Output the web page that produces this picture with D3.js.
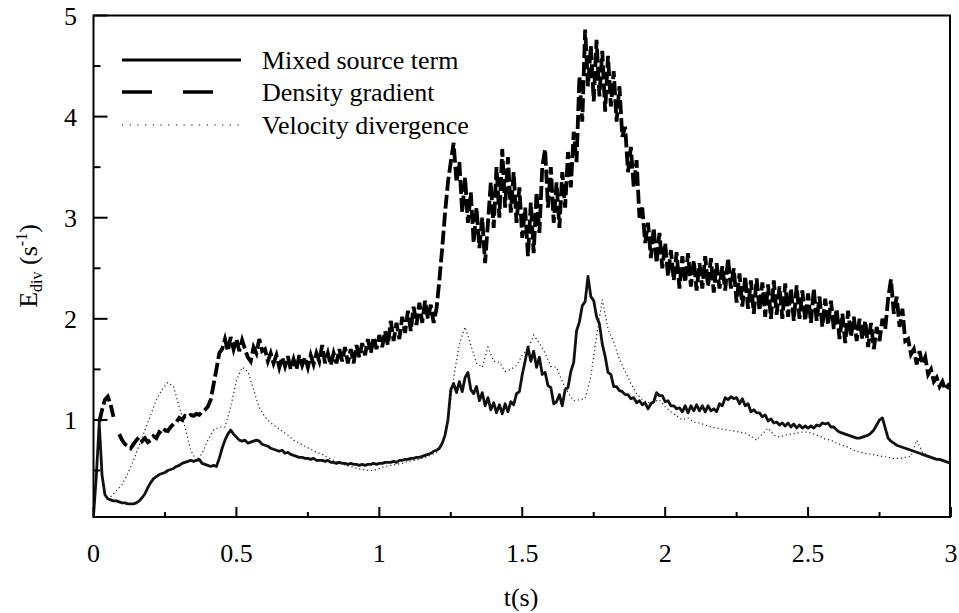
<!DOCTYPE html>
<html>
<head>
<meta charset="utf-8">
<script src="https://cdn.jsdelivr.net/npm/d3@7"></script>
<style>
  body { margin: 0; background: #fff; }
</style>
</head>
<body>
<div id="chart"></div>
<script>
// values, one sample every 0.01 s (mixed, density) or 0.02 s (velocity)
var mixedSource = [
  0.05,0.45,0.97,0.45,0.26,0.22,0.21,0.20,0.20,0.19,
  0.18,0.18,0.17,0.17,0.17,0.18,0.20,0.23,0.27,0.33,
  0.38,0.42,0.44,0.46,0.47,0.48,0.50,0.51,0.52,0.54,
  0.55,0.57,0.58,0.59,0.60,0.59,0.60,0.61,0.57,0.56,
  0.55,0.54,0.55,0.54,0.62,0.72,0.80,0.86,0.90,0.86,
  0.83,0.80,0.79,0.80,0.77,0.78,0.79,0.80,0.79,0.76,
  0.75,0.74,0.72,0.71,0.70,0.69,0.70,0.67,0.68,0.66,
  0.65,0.64,0.63,0.63,0.62,0.62,0.61,0.62,0.60,0.60,
  0.60,0.59,0.60,0.58,0.58,0.57,0.58,0.57,0.57,0.56,
  0.57,0.56,0.56,0.55,0.56,0.55,0.56,0.56,0.57,0.56,
  0.57,0.57,0.58,0.58,0.58,0.59,0.58,0.60,0.60,0.61,
  0.61,0.62,0.62,0.63,0.63,0.64,0.65,0.66,0.67,0.69,
  0.70,0.72,0.77,0.85,1.00,1.30,1.36,1.27,1.38,1.28,
  1.42,1.47,1.30,1.26,1.33,1.19,1.27,1.14,1.22,1.10,
  1.17,1.07,1.15,1.06,1.16,1.08,1.18,1.15,1.26,1.28,
  1.45,1.58,1.72,1.58,1.68,1.52,1.62,1.45,1.47,1.34,
  1.32,1.16,1.18,1.25,1.14,1.30,1.32,1.48,1.57,1.88,
  1.97,2.13,2.17,2.42,2.22,2.18,2.02,1.95,1.75,1.63,
  1.47,1.45,1.33,1.33,1.29,1.28,1.25,1.25,1.21,1.22,
  1.17,1.19,1.15,1.17,1.11,1.16,1.18,1.27,1.24,1.24,
  1.18,1.19,1.14,1.14,1.11,1.12,1.08,1.14,1.07,1.14,
  1.09,1.15,1.09,1.14,1.08,1.14,1.09,1.11,1.08,1.16,
  1.14,1.22,1.20,1.23,1.21,1.22,1.16,1.21,1.14,1.16,
  1.08,1.10,1.07,1.07,1.03,1.05,0.99,1.01,0.97,0.98,
  0.95,0.97,0.94,0.97,0.93,0.96,0.92,0.95,0.92,0.94,
  0.92,0.94,0.92,0.95,0.94,0.97,0.96,0.97,0.93,0.93,
  0.90,0.88,0.87,0.86,0.85,0.84,0.83,0.82,0.82,0.83,
  0.84,0.85,0.87,0.90,0.95,1.00,1.02,0.92,0.82,0.79,
  0.77,0.75,0.74,0.73,0.72,0.71,0.70,0.69,0.68,0.67,
  0.66,0.65,0.64,0.63,0.62,0.61,0.61,0.60,0.59,0.58,0.57
];

var densityGradient = [
  null,null,0.98,1.10,1.20,1.23,1.15,1.03,null,0.86,
  0.80,0.76,0.74,0.72,0.76,0.80,0.83,0.79,0.82,0.78,
  0.80,0.84,0.82,0.88,0.86,0.90,0.89,0.93,0.96,0.98,
  1.02,1.00,1.04,1.03,1.05,1.04,1.06,1.05,1.08,1.10,
  1.13,1.20,1.35,1.50,1.66,1.70,1.80,1.68,1.82,1.70,
  1.80,1.68,1.79,1.70,1.62,1.58,1.72,1.66,1.80,1.68,
  1.70,1.58,1.66,1.56,1.64,1.52,1.62,1.53,1.63,1.50,
  1.60,1.50,1.64,1.54,1.62,1.52,1.64,1.55,1.66,1.58,
  1.74,1.56,1.66,1.54,1.66,1.56,1.70,1.58,1.72,1.56,
  1.70,1.56,1.74,1.62,1.76,1.64,1.80,1.66,1.82,1.70,
  1.84,1.72,1.88,1.74,1.98,1.78,1.96,1.80,2.02,1.86,
  2.08,1.88,2.12,1.94,2.16,1.96,2.18,2.00,2.14,1.96,
  2.10,2.38,2.70,3.05,3.35,3.55,3.74,3.35,3.55,3.05,
  3.40,2.95,3.25,2.75,3.10,2.70,3.00,2.55,2.95,3.35,
  2.90,3.50,3.00,3.68,3.10,3.60,3.05,3.45,2.95,3.30,
  2.80,3.10,2.62,3.15,2.65,3.25,2.85,3.50,3.68,3.10,
  3.50,2.95,3.35,2.90,3.45,3.10,3.65,3.30,3.85,3.55,
  4.40,3.95,4.86,4.30,4.70,4.15,4.76,4.20,4.65,4.05,
  4.60,4.10,4.45,3.95,4.30,3.80,3.90,3.45,3.70,3.30,
  3.57,3.00,3.10,2.75,2.95,2.60,2.90,2.55,2.85,2.50,
  2.75,2.42,2.68,2.38,2.66,2.30,2.62,2.36,2.65,2.32,
  2.58,2.28,2.55,2.30,2.62,2.32,2.60,2.26,2.55,2.30,
  2.52,2.28,2.60,2.30,2.50,2.16,2.45,2.12,2.42,2.10,
  2.38,2.05,2.40,2.08,2.36,2.02,2.34,2.00,2.38,2.04,
  2.32,2.00,2.35,2.02,2.30,1.98,2.33,2.00,2.28,1.98,
  2.25,1.96,2.30,1.98,2.22,1.92,2.20,1.94,2.18,1.90,
  2.10,1.80,2.05,1.76,2.08,1.82,2.02,1.78,2.00,1.80,
  1.98,1.72,1.96,1.70,1.92,1.78,2.00,1.90,2.20,2.39,
  2.05,2.22,1.92,2.10,1.78,1.80,1.65,1.70,1.55,1.68,
  1.55,1.62,1.45,1.50,1.38,1.42,1.33,1.38,1.30,1.34,1.30
];

var velocityDivergence = [
  null,null,null,0.24,0.30,0.36,0.47,0.60,0.75,0.90,
  1.05,1.20,1.30,1.37,1.33,1.13,0.93,0.70,0.60,0.67,
  0.80,0.90,0.93,0.93,1.13,1.39,1.52,1.48,1.30,1.12,
  1.03,0.97,0.93,0.89,0.85,0.80,0.77,0.74,0.71,0.68,
  0.66,0.63,0.60,0.58,0.55,0.54,0.52,0.51,0.50,0.50,
  0.52,0.54,0.55,0.56,0.57,0.59,0.60,0.61,0.63,0.65,
  0.68,0.75,1.00,1.42,1.75,1.92,1.74,1.56,1.52,1.72,
  1.58,1.57,1.48,1.50,1.54,1.64,1.70,1.84,1.76,1.66,
  1.53,1.52,1.38,1.27,1.19,1.20,1.21,1.43,1.83,2.19,
  1.90,1.77,1.60,1.48,1.36,1.26,1.20,1.17,1.18,1.20,
  1.13,1.08,1.04,1.00,1.02,0.98,0.97,0.95,0.93,0.92,
  0.91,0.90,0.89,0.88,0.87,0.84,0.80,0.86,0.92,0.85,
  0.83,0.85,0.86,0.87,0.88,0.88,0.86,0.84,0.81,0.80,
  0.77,0.75,0.73,0.70,0.68,0.67,0.66,0.65,0.64,0.63,
  0.62,0.62,0.63,0.64,0.80,0.68,0.65,0.62,0.61,0.59,
  0.58
];

var xTicks = [0, 0.5, 1, 1.5, 2, 2.5, 3];
var yTicks = [1, 2, 3, 4, 5];
var legendNames = ["Mixed source term", "Density gradient", "Velocity divergence"];

var width = 959, height = 613;
var serif = "'Liberation Serif', 'Times New Roman', Times, 'DejaVu Serif', serif";
var svg = d3.select("#chart").append("svg")
  .attr("width", width)
  .attr("height", height)
  .attr("font-family", serif)
  .style("font-family", serif);

var x = d3.scaleLinear().domain([0, 3]).range([93.5, 951]);
var y = d3.scaleLinear().domain([0.04, 5]).range([517, 15.5]);

// turn an evenly sampled list into [t, value] pairs
function toPoints(vals, step) {
  return vals.map(function (v, i) { return [i * step, v]; });
}

svg.append("clipPath").attr("id", "plot")
  .append("rect")
  .attr("x", x(0)).attr("y", y(5))
  .attr("width", x(3) - x(0)).attr("height", y(0.04) - y(5));

var line = d3.line()
  .defined(function (d) { return d[1] !== null; })
  .x(function (d) { return x(d[0]); })
  .y(function (d) { return y(d[1]); });

var plot = svg.append("g").attr("clip-path", "url(#plot)");

plot.append("path")
  .datum(toPoints(velocityDivergence, 0.02))
  .attr("d", line)
  .attr("fill", "none")
  .attr("stroke", "#222")
  .attr("stroke-width", 1.2)
  .attr("stroke-dasharray", "1.2,2.8");

plot.append("path")
  .datum(toPoints(mixedSource, 0.01))
  .attr("d", line)
  .attr("fill", "none")
  .attr("stroke", "#111")
  .attr("stroke-width", 2.8)
  .attr("stroke-linejoin", "round");

plot.append("path")
  .datum(toPoints(densityGradient, 0.01))
  .attr("d", line)
  .attr("fill", "none")
  .attr("stroke", "#000")
  .attr("stroke-width", 3.8)
  .attr("stroke-dasharray", "14,4");

// frame
svg.append("rect")
  .attr("x", x(0)).attr("y", y(5))
  .attr("width", 950 - x(0)).attr("height", y(0.04) - y(5))
  .attr("fill", "none")
  .attr("stroke", "#000")
  .attr("stroke-width", 2);

// y ticks, pointing inward
var yt = svg.append("g");
yt.selectAll("line")
  .data(d3.range(0.5, 5.01, 0.5))
  .enter().append("line")
  .attr("x1", x(0))
  .attr("x2", function (d) { return x(0) + (d % 1 === 0 ? 14 : 7); })
  .attr("y1", function (d) { return y(d); })
  .attr("y2", function (d) { return y(d); })
  .attr("stroke", "#000").attr("stroke-width", 2);
yt.selectAll("text")
  .data(yTicks)
  .enter().append("text")
  .attr("x", 77)
  .attr("y", function (d) { return y(d) + 9; })
  .attr("text-anchor", "end")
  .style("font-size", "26px")
  .text(function (d) { return d; });

// x ticks
var xt = svg.append("g");
xt.selectAll("line")
  .data(d3.range(0, 3.01, 0.25))
  .enter().append("line")
  .attr("x1", function (d) { return x(d); })
  .attr("x2", function (d) { return x(d); })
  .attr("y1", y(0.04))
  .attr("y2", function (d) { return y(0.04) - (d % 0.5 === 0 ? 10 : 5); })
  .attr("stroke", "#000").attr("stroke-width", 2);
xt.selectAll("text")
  .data(xTicks)
  .enter().append("text")
  .attr("x", function (d) { return x(d); })
  .attr("y", 562)
  .attr("text-anchor", "middle")
  .style("font-size", "26px")
  .text(function (d) { return d; });

// axis titles
svg.append("text")
  .attr("x", 521).attr("y", 606)
  .attr("text-anchor", "middle")
  .style("font-size", "26px")
  .text("t(s)");

var yl = svg.append("text")
  .attr("transform", "translate(37,266) rotate(-90)")
  .attr("text-anchor", "middle")
  .style("font-size", "26px");
yl.append("tspan").text("E");
yl.append("tspan").attr("dy", 5).style("font-size", "16px").text("div");
yl.append("tspan").attr("dy", -5).text(" (s");
yl.append("tspan").attr("dy", -10).style("font-size", "16px").text("-1");
yl.append("tspan").attr("dy", 10).text(")");

// legend
var legendY = [60, 92, 125];
var legendDash = [null, "30,31", "1.2,6.5"];
var legendW = [3, 3.5, 1.2];
var lg = svg.append("g");
legendNames.forEach(function (name, i) {
  lg.append("line")
    .attr("x1", 122).attr("x2", 241)
    .attr("y1", legendY[i]).attr("y2", legendY[i])
    .attr("stroke", "#000")
    .attr("stroke-width", legendW[i])
    .attr("stroke-dasharray", legendDash[i]);
  lg.append("text")
    .attr("x", 262).attr("y", legendY[i] + 9)
    .style("font-size", "26px")
    .text(name);
});
</script>
</body>
</html>
